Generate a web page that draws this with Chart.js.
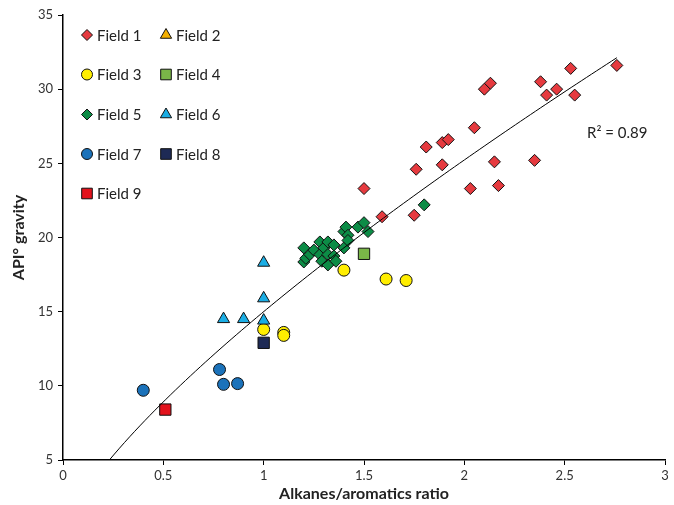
<!DOCTYPE html>
<html lang="en">
<head>
<meta charset="UTF-8">
<title>API gravity vs alkanes/aromatics ratio</title>
<script src="https://cdn.jsdelivr.net/npm/chart.js"></script>
<style>
  html, body { margin: 0; padding: 0; background: #fff; }
  #wrap { width: 674px; height: 505px; }
</style>
</head>
<body>
<div id="wrap"><canvas id="chart" width="674" height="505"></canvas></div>
<script>
// data, [ratio, API gravity]
const field1 = [[1.50,23.3],[1.59,21.4],[1.75,21.5],[1.76,24.6],[1.81,26.1],[1.89,24.9],[1.89,26.4],
  [1.92,26.6],[2.03,23.3],[2.05,27.4],[2.10,30.0],[2.13,30.4],[2.15,25.1],[2.17,23.5],[2.35,25.2],
  [2.38,30.5],[2.41,29.6],[2.46,30.0],[2.53,31.4],[2.55,29.6],[2.76,31.6]];
const field2 = [];
const field3 = [[1.00,13.8],[1.10,13.6],[1.10,13.4],[1.40,17.8],[1.61,17.2],[1.71,17.1]];
const field4 = [[1.50,18.9]];
const field5 = [[1.20,19.3],[1.20,18.35],[1.21,18.6],[1.23,18.85],[1.25,19.15],[1.28,19.7],[1.28,18.85],
  [1.29,18.4],[1.30,19.3],[1.32,19.7],[1.32,18.85],[1.32,18.15],[1.35,19.5],[1.35,18.75],[1.36,18.4],
  [1.40,19.3],[1.40,20.4],[1.41,20.7],[1.42,20.15],[1.42,19.8],[1.47,20.7],[1.50,21.0],[1.52,20.4],[1.80,22.2]];
const field6 = [[0.80,14.5],[0.90,14.5],[1.00,14.4],[1.00,15.9],[1.00,18.3]];
const field7 = [[0.40,9.7],[0.78,11.1],[0.80,10.1],[0.87,10.15]];
const field8 = [[1.00,12.9]];
const field9 = [[0.51,8.4]];

const fieldNames = ["Field 1","Field 2","Field 3","Field 4","Field 5","Field 6","Field 7","Field 8","Field 9"];
const fieldData = [field1, field2, field3, field4, field5, field6, field7, field8, field9];

// power trendline y = a * x^b as shown on the chart (R² = 0.89)
const trendA = 15.0;
const trendB = 0.75;
const trendFrom = 0.231;
const trendTo = 2.76;
const rSquaredText = "R\u00B2 = 0.89";

const xTicks = [0, 0.5, 1, 1.5, 2, 2.5, 3];
const yTicks = [5, 10, 15, 20, 25, 30, 35];

const styles = [
  { pointStyle: "rectRot", radius: 6, color: "#E63A3F" },
  { pointStyle: "triangle", radius: 7, color: "#F5B000" },
  { pointStyle: "circle", radius: 6, color: "#FFEE00" },
  { pointStyle: "rect", radius: 8, color: "#7AB648" },
  { pointStyle: "rectRot", radius: 6, color: "#0C8C46" },
  { pointStyle: "triangle", radius: 7, color: "#1AADE4" },
  { pointStyle: "circle", radius: 6, color: "#1B72BA" },
  { pointStyle: "rect", radius: 8, color: "#1E2A55" },
  { pointStyle: "rect", radius: 8, color: "#E3121C" }
];

const trendPoints = [];
for (let i = 0; i <= 100; i++) {
  const x = trendFrom + (trendTo - trendFrom) * i / 100;
  trendPoints.push({ x: x, y: trendA * Math.pow(x, trendB) });
}

const datasets = fieldNames.map((name, i) => ({
  label: name,
  data: fieldData[i].map(p => ({ x: p[0], y: p[1] })),
  pointStyle: styles[i].pointStyle,
  pointRadius: styles[i].radius,
  backgroundColor: styles[i].color,
  borderColor: "#111",
  borderWidth: 1,
  order: 10 - i
}));
datasets.push({
  type: "line",
  label: "trend",
  data: trendPoints,
  borderColor: "#000",
  borderWidth: 1,
  pointRadius: 0,
  fill: false,
  order: -1
});

const FONT = "Lato, 'Open Sans', sans-serif";

// legend in two columns inside the plot plus the R² note
const overlay = {
  id: "overlay",
  afterDraw(chart) {
    const ctx = chart.ctx;
    ctx.save();
    const colX = [87, 166];
    const rowY = [35, 74.5, 114.5, 154, 193.5];
    fieldNames.forEach((name, i) => {
      const x = colX[i % 2];
      const y = rowY[Math.floor(i / 2)];
      ctx.fillStyle = styles[i].color;
      ctx.strokeStyle = "#111";
      ctx.lineWidth = 1;
      Chart.helpers.drawPoint(ctx, {
        pointStyle: styles[i].pointStyle,
        radius: styles[i].radius - 0.5,
        rotation: 0,
        borderWidth: 1
      }, x, y);
      ctx.fillStyle = "#222";
      ctx.font = "15px " + FONT;
      ctx.textBaseline = "middle";
      ctx.textAlign = "left";
      ctx.fillText(name, x + 10, y + 1);
    });
    ctx.fillStyle = "#222";
    ctx.font = "15px " + FONT;
    ctx.textBaseline = "middle";
    ctx.fillText(rSquaredText, 587, 133);
    ctx.restore();
  }
};

new Chart(document.getElementById("chart"), {
  type: "scatter",
  data: { datasets: datasets },
  plugins: [overlay],
  options: {
    responsive: false,
    animation: false,
    layout: { padding: { top: 15, right: -4, left: 0, bottom: 0 } },
    plugins: { legend: { display: false }, tooltip: { enabled: false } },
    scales: {
      x: {
        type: "linear",
        min: 0, max: 3,
        afterBuildTicks: s => { s.ticks = xTicks.map(v => ({ value: v })); },
        afterFit: s => { s.height = 45; },
        grid: { drawOnChartArea: false, drawTicks: true, tickLength: 5, color: "#000" },
        border: { display: true, color: "#000", width: 1.5 },
        ticks: { color: "#333", font: { family: FONT, size: 13 }, padding: 3, maxRotation: 0,
          callback: v => String(v) },
        title: { display: true, text: "Alkanes/aromatics ratio", color: "#222",
          font: { family: FONT, size: 16, weight: "bold" }, padding: { top: 0, bottom: 2 } }
      },
      y: {
        type: "linear",
        min: 5, max: 35,
        afterBuildTicks: s => { s.ticks = yTicks.map(v => ({ value: v })); },
        afterFit: s => { s.width = 63; },
        grid: { drawOnChartArea: false, drawTicks: true, tickLength: 5, color: "#000" },
        border: { display: true, color: "#000", width: 1.5 },
        ticks: { color: "#333", font: { family: FONT, size: 13 }, padding: 5 },
        title: { display: true, text: "API\u00B0 gravity", color: "#222",
          font: { family: FONT, size: 16, weight: "bold" }, padding: { top: 9, bottom: 0 } }
      }
    }
  }
});
</script>
</body>
</html>
